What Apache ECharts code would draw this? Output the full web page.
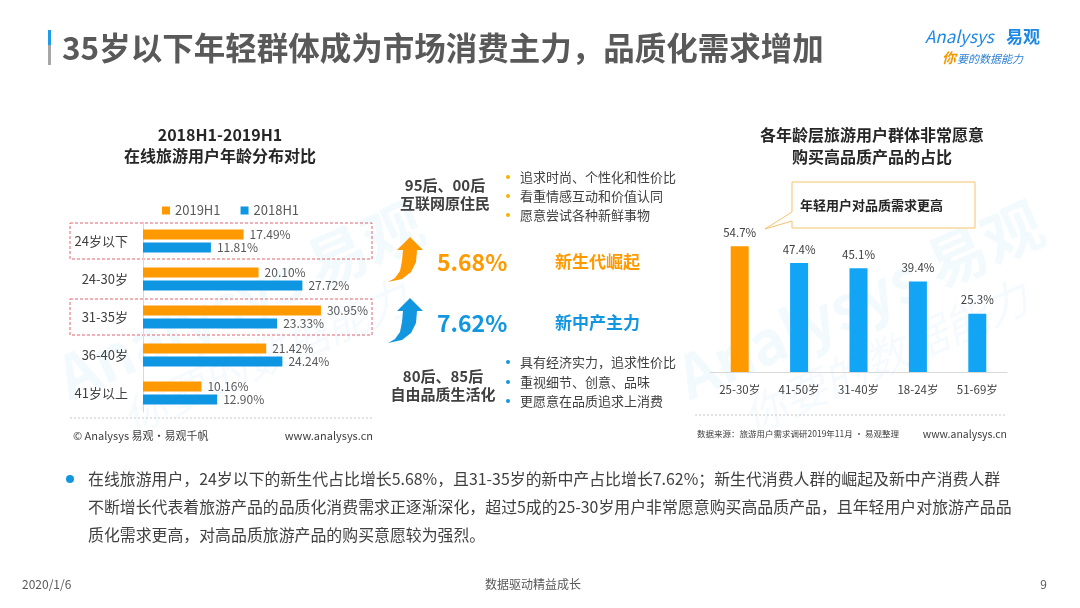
<!DOCTYPE html>
<html>
<head>
<meta charset="utf-8">
<script src="https://cdn.jsdelivr.net/npm/echarts@6/dist/echarts.min.js"></script>
<style>
  html, body { margin: 0; padding: 0; background: #fff; }
  #chart { width: 1080px; height: 608px; }
</style>
</head>
<body>
<div id="chart"></div>
<script>
// left chart: age distribution of online travel users
const ageCats = ['24岁以下', '24-30岁', '31-35岁', '36-40岁', '41岁以上'];
const share2019 = [17.49, 20.10, 30.95, 21.42, 10.16];
const share2018 = [11.81, 27.72, 23.33, 24.24, 12.90];
const highlightCats = ['24岁以下', '31-35岁'];

// right chart: share willing to buy high quality products
const qualityCats = ['25-30岁', '41-50岁', '31-40岁', '18-24岁', '51-69岁'];
const qualityShare = [54.7, 47.4, 45.1, 39.4, 25.3];

const FF = '"Noto Sans CJK SC", "Noto Sans", sans-serif';
const ORANGE = '#FF9900';
const BLUE_L = '#0E96E3';
const BLUE_R = '#12A5F5';
const TXT = '#404040';

function txt(x, y, text, size, color, weight, align) {
  return {
    type: 'text', x: x, y: y, silent: true,
    style: {
      text: text, fill: color,
      font: (weight || 'normal') + ' ' + size + 'px ' + FF,
      align: align || 'left', verticalAlign: 'middle'
    }
  };
}
function dot(x, y, color) {
  return { type: 'circle', silent: true, shape: { cx: x, cy: y, r: 2 }, style: { fill: color } };
}
function dotted(x1, x2, y) {
  return { type: 'line', silent: true, shape: { x1: x1, y1: y, x2: x2, y2: y },
    style: { stroke: '#c8c8c8', lineWidth: 1, lineDash: [2, 2] } };
}
// curved upward arrow (decoration)
function arrow(dy, color) {
  return { type: 'polygon', silent: true, y: dy,
    shape: { points: [[388, 282], [395, 278], [400, 271], [402, 261], [403, 250], [397, 250],
      [410, 237], [423, 250], [417, 250], [416, 262], [411, 272], [402, 279]] },
    style: { fill: color } };
}
function watermark(x, y) {
  return { type: 'group', x: x, y: y, rotation: 0.42, silent: true, children: [
    { type: 'text', style: { text: 'Analysys 易观', fill: 'rgba(20,150,225,0.05)',
      font: 'bold 60px ' + FF, align: 'center', verticalAlign: 'middle' } },
    { type: 'text', y: 62, style: { text: '你要的数据能力', fill: 'rgba(20,150,225,0.045)',
      font: 'italic 44px ' + FF, align: 'center', verticalAlign: 'middle' } }
  ] };
}

const graphics = [
  watermark(240, 300),
  watermark(860, 300),
  // page title
  { type: 'rect', silent: true, shape: { x: 48, y: 30, width: 3, height: 15 }, style: { fill: '#1E9CE8' } },
  { type: 'rect', silent: true, shape: { x: 48, y: 45, width: 3, height: 20 }, style: { fill: '#A6A6A6' } },
  txt(62, 48, '35岁以下年轻群体成为市场消费主力，品质化需求增加', 31.5, '#595959', 'bold'),
  // logo
  { type: 'text', x: 925, y: 37, silent: true,
    style: { text: 'Analysys', fill: '#1E88E5', font: 'italic 17px ' + FF, verticalAlign: 'middle' } },
  txt(1006, 37, '易观', 17, '#1E88E5', 'bold'),
  { type: 'text', x: 942, y: 58, silent: true,
    style: { text: '你', fill: '#F39800', font: 'italic bold 14px ' + FF, verticalAlign: 'middle' } },
  { type: 'text', x: 957, y: 59, silent: true,
    style: { text: '要的数据能力', fill: '#2A7FD4', font: 'italic 11px ' + FF, verticalAlign: 'middle' } },

  // left chart title and footer
  txt(220, 135, '2018H1-2019H1', 16, '#262626', 'bold', 'center'),
  txt(220, 156, '在线旅游用户年龄分布对比', 16, '#262626', 'bold', 'center'),
  dotted(70, 373, 418),
  txt(73, 436, '© Analysys 易观·易观千帆', 11, TXT),
  txt(373, 436, 'www.analysys.cn', 11, TXT, 'normal', 'right'),

  // middle
  txt(445, 185, '95后、00后', 15, TXT, 'bold', 'center'),
  txt(445, 203, '互联网原住民', 15, TXT, 'bold', 'center'),
  dot(508, 177, '#F5B400'), txt(520, 177, '追求时尚、个性化和性价比', 13, TXT),
  dot(508, 196, '#F5B400'), txt(520, 196, '看重情感互动和价值认同', 13, TXT),
  dot(508, 215, '#F5B400'), txt(520, 215, '愿意尝试各种新鲜事物', 13, TXT),
  arrow(0, ORANGE),
  txt(437, 262, '5.68%', 23, ORANGE, 'bold'),
  txt(555, 262, '新生代崛起', 17, ORANGE, 'bold'),
  arrow(61, '#1296E0'),
  txt(437, 323, '7.62%', 23, '#1296E0', 'bold'),
  txt(555, 323, '新中产主力', 17, '#1296E0', 'bold'),
  txt(443, 376, '80后、85后', 15, TXT, 'bold', 'center'),
  txt(443, 394, '自由品质生活化', 15, TXT, 'bold', 'center'),
  dot(508, 362, '#1296E0'), txt(520, 362, '具有经济实力，追求性价比', 13, TXT),
  dot(508, 382, '#1296E0'), txt(520, 382, '重视细节、创意、品味', 13, TXT),
  dot(508, 401, '#1296E0'), txt(520, 401, '更愿意在品质追求上消费', 13, TXT),

  // right chart title, callout, footer
  txt(872, 135, '各年龄层旅游用户群体非常愿意', 16, '#262626', 'bold', 'center'),
  txt(872, 157, '购买高品质产品的占比', 16, '#262626', 'bold', 'center'),
  { type: 'polygon', silent: true,
    shape: { points: [[792, 182], [975, 182], [975, 228], [792, 228], [792, 221], [765, 229], [792, 212]] },
    style: { fill: '#fff', stroke: '#F5C36B', lineWidth: 1 } },
  txt(800, 205, '年轻用户对品质需求更高', 13, '#262626', 'bold'),
  dotted(695, 1007, 415),
  txt(697, 434, '数据来源：旅游用户需求调研2019年11月 · 易观整理', 8.5, TXT),
  txt(1007, 434, 'www.analysys.cn', 10.5, TXT, 'normal', 'right'),

  // summary text
  { type: 'circle', silent: true, shape: { cx: 70, cy: 479, r: 4 }, style: { fill: '#1296E0' } },
  txt(88, 479, '在线旅游用户，24岁以下的新生代占比增长5.68%，且31-35岁的新中产占比增长7.62%；新生代消费人群的崛起及新中产消费人群', 15.9, TXT),
  txt(88, 507, '不断增长代表着旅游产品的品质化消费需求正逐渐深化，超过5成的25-30岁用户非常愿意购买高品质产品，且年轻用户对旅游产品品', 15.9, TXT),
  txt(88, 535, '质化需求更高，对高品质旅游产品的购买意愿较为强烈。', 15.9, TXT),

  // page footer
  txt(22, 584, '2020/1/6', 12, '#595959'),
  txt(533, 584, '数据驱动精益成长', 12, '#595959', 'normal', 'center'),
  txt(1047, 584, '9', 12, '#595959', 'normal', 'right')
];

const chart = echarts.init(document.getElementById('chart'));
chart.setOption({
  backgroundColor: '#fff',
  animation: false,
  textStyle: { fontFamily: FF },
  legend: {
    data: ['2019H1', '2018H1'],
    left: 157, top: 199,
    icon: 'rect', itemWidth: 8, itemHeight: 8, itemGap: 20,
    textStyle: { fontSize: 13, color: '#595959' }
  },
  grid: [
    { left: 143, top: 222, width: 230, height: 190 },
    { left: 710, top: 234, width: 297, height: 138 }
  ],
  xAxis: [
    { type: 'value', gridIndex: 0, min: 0, max: 40, show: false },
    { type: 'category', gridIndex: 1, data: qualityCats,
      axisLine: { lineStyle: { color: '#d9d9d9' } }, axisTick: { show: false },
      axisLabel: { color: TXT, fontSize: 11.5, margin: 12 } }
  ],
  yAxis: [
    { type: 'category', gridIndex: 0, data: ageCats, inverse: true,
      axisLine: { lineStyle: { color: '#d9d9d9' } }, axisTick: { show: false },
      axisLabel: { color: TXT, fontSize: 13, margin: 15 } },
    { type: 'value', gridIndex: 1, min: 0, max: 60, show: false }
  ],
  series: [
    { name: '2019H1', type: 'bar', xAxisIndex: 0, yAxisIndex: 0, data: share2019,
      barWidth: 10, barGap: '30%', itemStyle: { color: ORANGE },
      label: { show: true, position: 'right', distance: 6, color: '#595959', fontSize: 12,
        formatter: p => p.value.toFixed(2) + '%' } },
    { name: '2018H1', type: 'bar', xAxisIndex: 0, yAxisIndex: 0, data: share2018,
      barWidth: 10, barGap: '30%', itemStyle: { color: BLUE_L },
      label: { show: true, position: 'right', distance: 6, color: '#595959', fontSize: 12,
        formatter: p => p.value.toFixed(2) + '%' } },
    { name: 'quality', type: 'bar', xAxisIndex: 1, yAxisIndex: 1, data: qualityShare,
      barWidth: 18,
      itemStyle: { color: p => (p.dataIndex === 0 ? ORANGE : BLUE_R) },
      label: { show: true, position: 'top', distance: 8, color: TXT, fontSize: 11.5,
        formatter: p => p.value.toFixed(1) + '%' } }
  ],
  graphic: graphics
});

// dashed highlight boxes around the two highlighted age groups
const boxes = highlightCats.map(c => {
  const cy = chart.convertToPixel({ yAxisIndex: 0 }, c);
  return { type: 'rect', silent: true, shape: { x: 70, y: cy - 18, width: 302, height: 36 },
    style: { fill: 'none', stroke: '#E0656E', lineWidth: 1, lineDash: [3, 2] } };
});
chart.setOption({ graphic: graphics.concat(boxes) });
</script>
</body>
</html>
